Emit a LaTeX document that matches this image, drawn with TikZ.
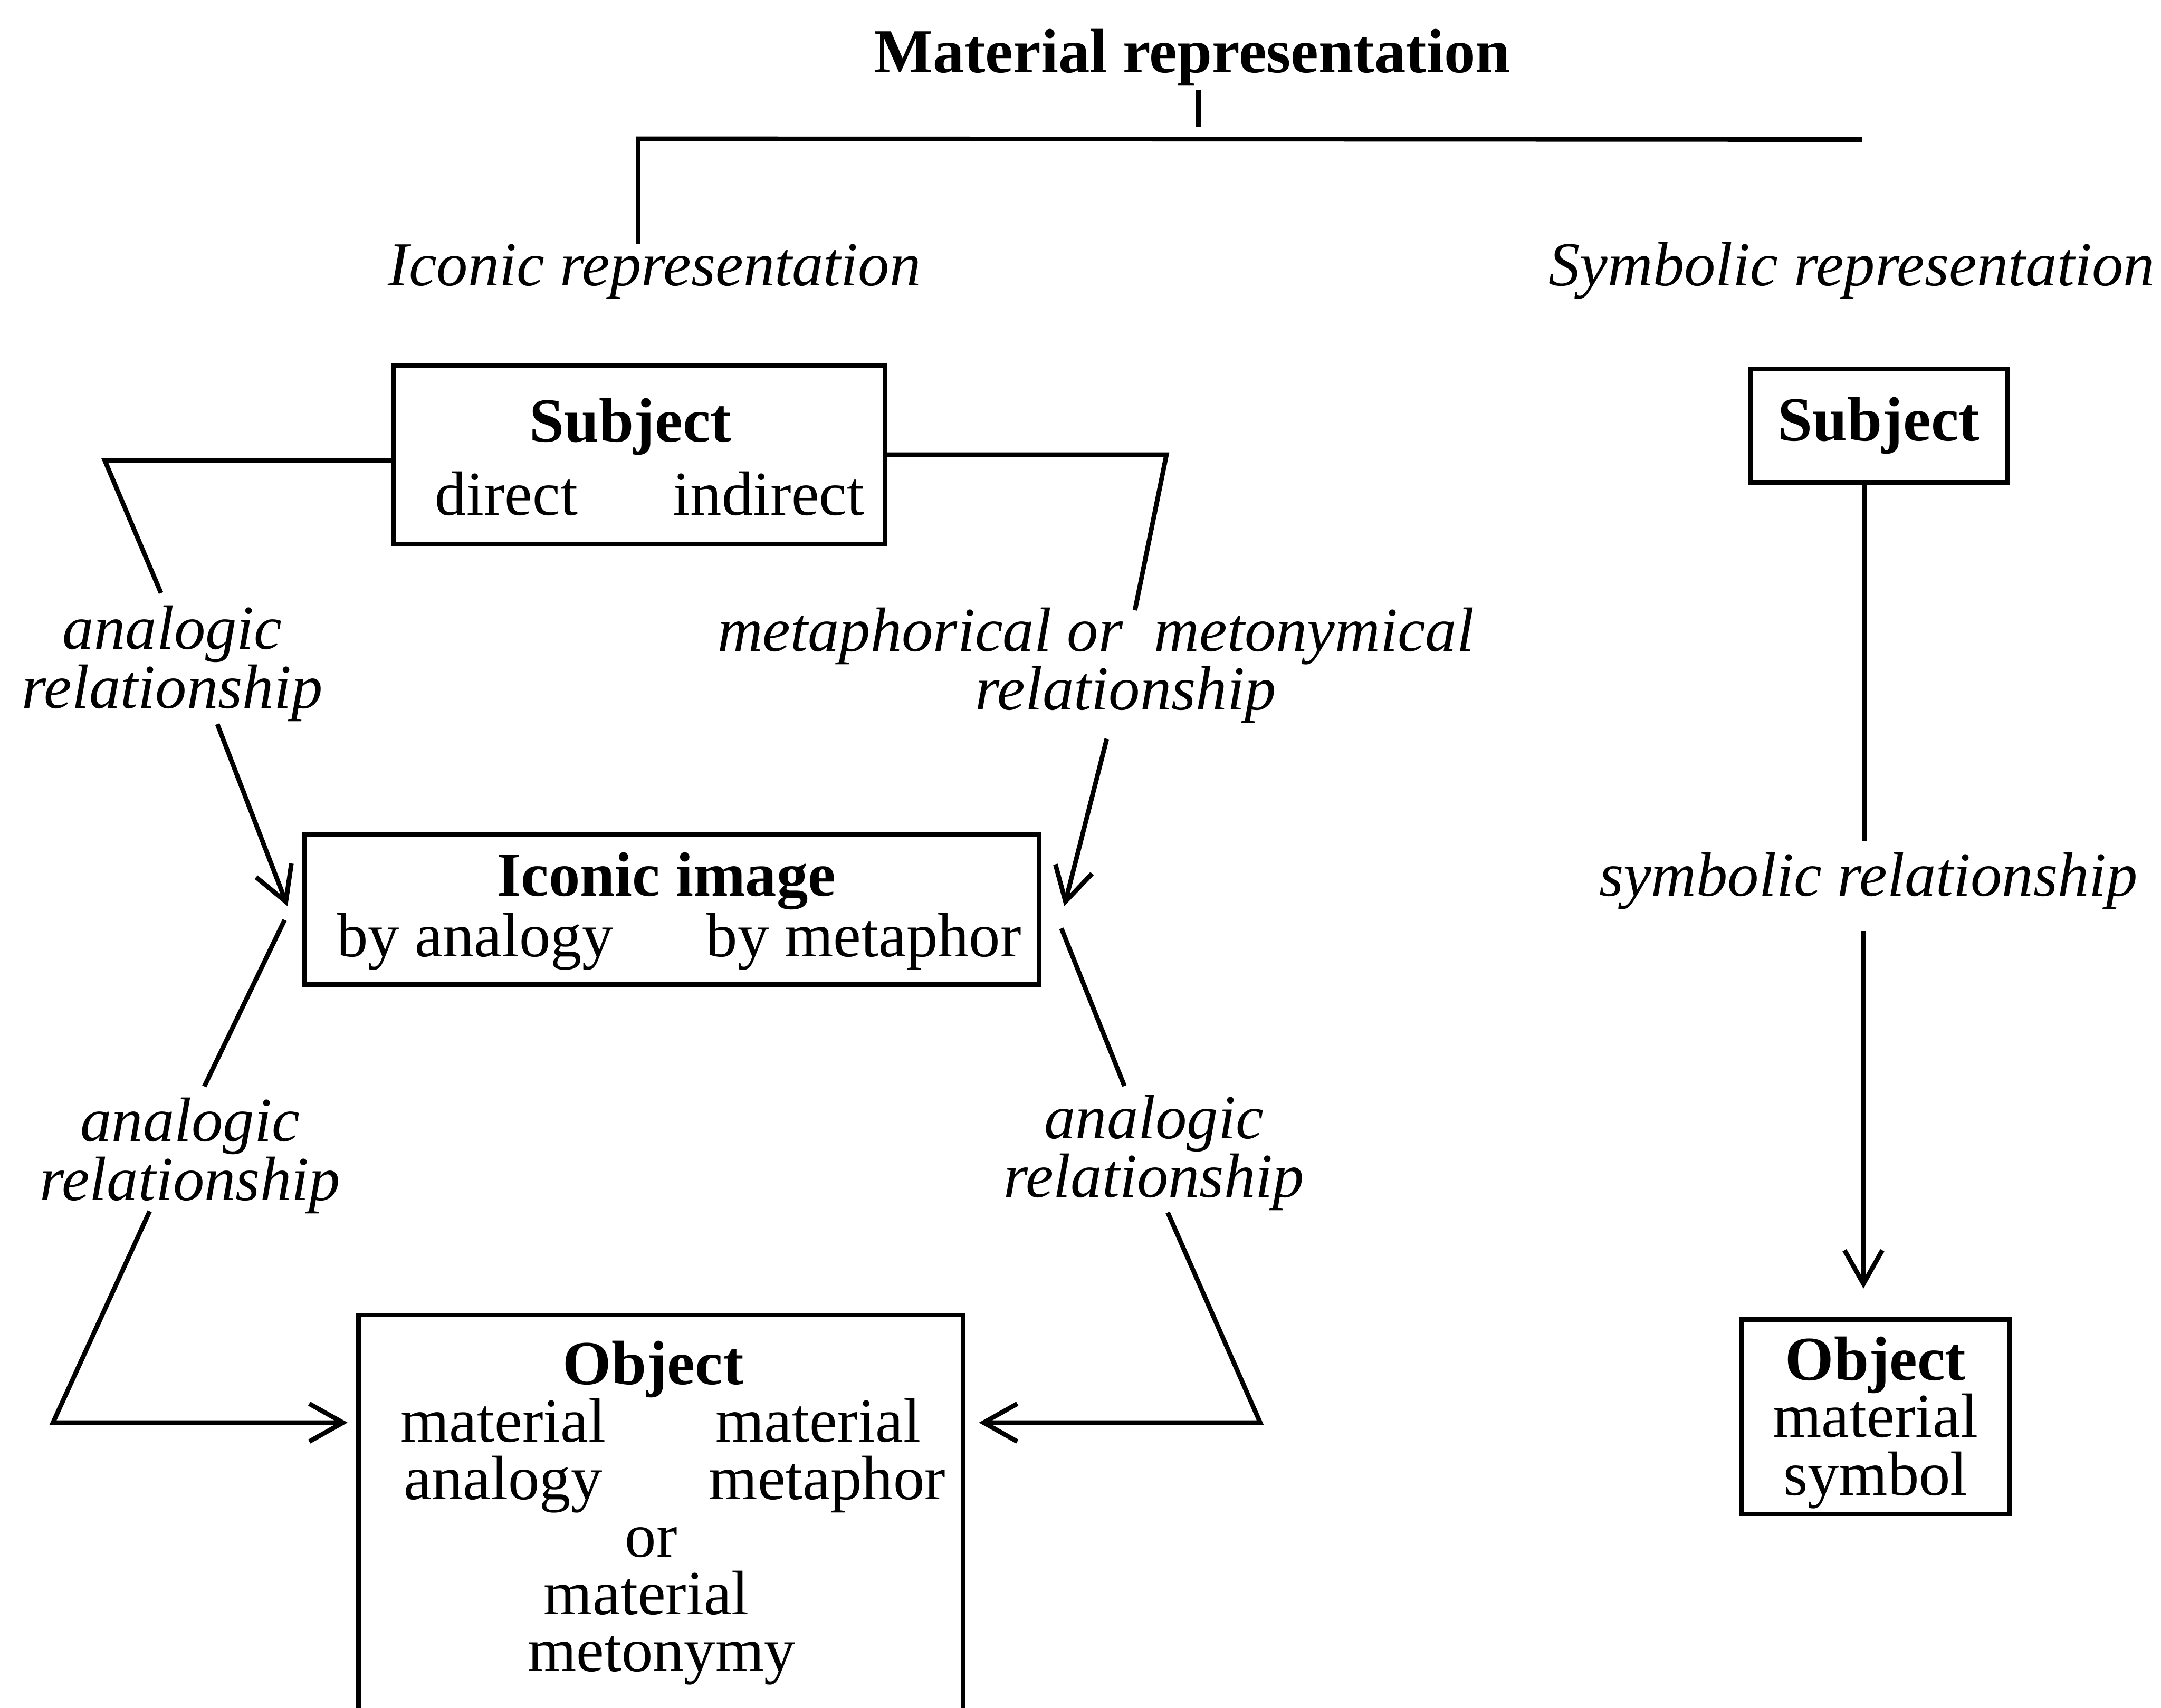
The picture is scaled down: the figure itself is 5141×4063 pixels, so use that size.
\documentclass[tikz,border=0pt]{standalone}
\usepackage{fontspec}
\setmainfont{Liberation Serif}
\usetikzlibrary{arrows.meta}
\newcommand\figfont{\fontsize{14.9pt}{14pt}\selectfont}
\begin{document}
\begin{tikzpicture}[x=0.1pt,y=-0.1pt,
  every node/.style={inner sep=0pt, outer sep=0pt},
  txt/.style={anchor=base, font=\figfont},
  hd/.style={anchor=base, font=\figfont\bfseries},
  lab/.style={align=center, font=\figfont\itshape},
  box/.style={draw, line width=1.1pt},
  conn/.style={line width=1.1pt},
  arr/.style={conn, -{Straight Barb[length=8pt,width=9pt]}}]

\useasboundingbox (0,0) rectangle (5141,4063);
\clip (0,0) rectangle (5141,4063);

% ---- top level
\node[hd] (title) at (2836,172) {Material representation};
\node[txt, font=\figfont\itshape] (iconicRep) at (1557,679) {Iconic representation};
\node[txt, font=\figfont\itshape] (symbolicRep) at (4405,679) {Symbolic representation};

\coordinate (tickBot) at (2851,301);
\path (title.south -| tickBot) ++(0,10) coordinate (tickTop);
\draw[conn] (tickTop) -- (tickBot);

\coordinate (barL) at (1518,330);
\coordinate (barR) at (4429,332);
\draw[conn] (barR) -- (barL) -- (barL |- iconicRep.north);

% ---- iconic branch: boxes
\node[box, minimum width=116.9pt, minimum height=42.5pt] (subjL) at (1521.5,1081.5) {};
\node[hd]  (subjLhead) at (1500,1051) {Subject};
\node[txt] (subjLdir)  at (1205,1225) {direct};
\node[txt] (subjLind)  at (1829,1225) {indirect};

\node[box, minimum width=174.8pt, minimum height=35.8pt] (iconic) at (1598,2164) {};
\node[hd]  (iconHead) at (1585,2132) {Iconic image};
\node[txt] (iconAn)   at (1130,2276) {by analogy};
\node[txt] (iconMet)  at (2055,2276) {by metaphor};

\node[box, minimum width=143.9pt, minimum height=95.1pt, anchor=north west] (objL) at (853,3129) {};
\node[hd]  (objLhead) at (1554,3294) {Object};
\node[txt] (objLmat1) at (1197,3431) {material};
\node[txt] (objLmat2) at (1946,3431) {material};
\node[txt] (objLana)  at (1197,3568) {analogy};
\node[txt] (objLmet)  at (1968,3568) {metaphor};
\node[txt] (objLor)   at (1549,3705) {or};
\node[txt] (objLmat3) at (1538,3841) {material};
\node[txt] (objLmety) at (1574,3977) {metonymy};

% ---- iconic branch: relationship labels
\node[lab] (labA) at (410,1579) {analogic\\relationship};
\node[lab] (labB) at (2607,1583) {metaphorical or\ \ metonymical\\\hspace*{14.2pt}relationship};
\node[lab] (labC) at (452,2750) {analogic\\relationship};
\node[lab] (labD) at (2745,2743) {analogic\\relationship};

% ---- iconic branch: connectors
\coordinate (c1) at (249,1095);
\coordinate (c1end) at (383,1411);
\coordinate (c1start) at (517,1723);
\draw[conn] (subjL.west |- c1) -- (c1) -- (c1end);
\draw[arr] (c1start) -- ([shift={(-4pt,0.8pt)}]iconic.west);

\coordinate (c2) at (2775,1082);
\coordinate (c2end) at (2700,1452);
\coordinate (c2start) at (2633,1758);
\draw[conn] (subjL.east |- c2) -- (c2) -- (c2end);
\draw[arr] (c2start) -- ([shift={(6pt,0.8pt)}]iconic.east);

\coordinate (d1) at (486,2585);
\coordinate (d2) at (356,2882);
\coordinate (d3) at (126,3385);
\draw[conn] ([shift={(-4.7pt,-2.5pt)}]iconic.west) -- (d1);
\draw[arr, shorten >=2.6pt] (d2) -- (d3) -- (objL.west |- d3);

\coordinate (e1) at (2675,2584);
\coordinate (e2) at (2778,2885);
\coordinate (e3) at (2998,3385);
\draw[conn] ([shift={(5.3pt,-4.5pt)}]iconic.east) -- (e1);
\draw[arr, shorten >=3.7pt] (e2) -- (e3) -- (objL.east |- e3);

% ---- symbolic branch
\node[box, minimum width=61.1pt, minimum height=27pt, font=\figfont\bfseries] (subjR) at (4469.5,1013) {Subject};
\node[box, minimum width=63.7pt, minimum height=46.2pt] (objR) at (4461.5,3371) {};
\node[hd]  (objRhead) at (4462,3284) {Object};
\node[txt] (objRmat)  at (4462,3420) {material};
\node[txt] (objRsym)  at (4462,3557) {symbol};

\node[txt, font=\figfont\itshape] (labE) at (4445,2132) {symbolic relationship};

\coordinate (g1) at (4435,2002);
\coordinate (g2) at (4433,2215);
\draw[conn] (subjR.south -| g1) -- (g1);
\draw[arr, shorten >=7.4pt] (g2) -- (objR.north -| g2);

\end{tikzpicture}
\end{document}
